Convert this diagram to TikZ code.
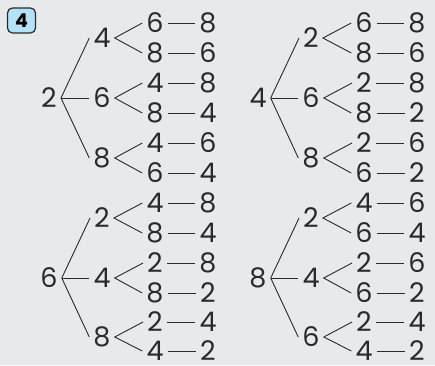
\documentclass[tikz,border=0pt]{standalone}
\usepackage{fontspec}
\setmainfont{Poppins}
\definecolor{paper}{HTML}{E8E9EB}
\definecolor{ink}{HTML}{2A2A2A}
\definecolor{tagblue}{HTML}{B4E2F7}

\begin{document}
\begin{tikzpicture}[x=1pt, y=-1pt,
  num/.style={inner xsep=4pt, inner ysep=0pt, text=ink, font=\fontsize{27}{32}\selectfont},
  tl/.style={ink, line width=0.9pt}]
\fill[paper] (0,0) rectangle (435,365);
\node[draw=ink, line width=1.2pt, fill=tagblue, rounded corners=5pt, minimum width=28pt, minimum height=25pt, inner sep=0pt, font=\fontsize{19}{22}\selectfont\bfseries] (tag) at (21.5,20.5) {4};
% tree 2
\node[num] (A) at (49,98) {2};
\node[num] (A1) at (102,38) {4};
\node[num] (A2) at (102,98) {6};
\node[num] (A3) at (102,158) {8};
\node[num] (A1a) at (155,23) {6};
\node[num] (A1b) at (155,53) {8};
\node[num] (A2a) at (155,83) {4};
\node[num] (A2b) at (155,113) {8};
\node[num] (A3a) at (155,143) {4};
\node[num] (A3b) at (155,173) {6};
\node[num] (A1az) at (208,23) {8};
\node[num] (A1bz) at (208,53) {6};
\node[num] (A2az) at (208,83) {8};
\node[num] (A2bz) at (208,113) {4};
\node[num] (A3az) at (208,143) {6};
\node[num] (A3bz) at (208,173) {4};
% tree 4
\node[num] (B) at (258,98) {4};
\node[num] (B1) at (311,38) {2};
\node[num] (B2) at (311,98) {6};
\node[num] (B3) at (311,158) {8};
\node[num] (B1a) at (364,23) {6};
\node[num] (B1b) at (364,53) {8};
\node[num] (B2a) at (364,83) {2};
\node[num] (B2b) at (364,113) {8};
\node[num] (B3a) at (364,143) {2};
\node[num] (B3b) at (364,173) {6};
\node[num] (B1az) at (417,23) {8};
\node[num] (B1bz) at (417,53) {6};
\node[num] (B2az) at (417,83) {8};
\node[num] (B2bz) at (417,113) {2};
\node[num] (B3az) at (417,143) {6};
\node[num] (B3bz) at (417,173) {2};
% tree 6
\node[num] (C) at (49,278) {6};
\node[num] (C1) at (102,218) {2};
\node[num] (C2) at (102,278) {4};
\node[num] (C3) at (102,337) {8};
\node[num] (C1a) at (155,203) {4};
\node[num] (C1b) at (155,233) {8};
\node[num] (C2a) at (155,263) {2};
\node[num] (C2b) at (155,293) {8};
\node[num] (C3a) at (155,322) {2};
\node[num] (C3b) at (155,351) {4};
\node[num] (C1az) at (208,203) {8};
\node[num] (C1bz) at (208,233) {4};
\node[num] (C2az) at (208,263) {8};
\node[num] (C2bz) at (208,293) {2};
\node[num] (C3az) at (208,322) {4};
\node[num] (C3bz) at (208,351) {2};
% tree 8
\node[num] (D) at (258,278) {8};
\node[num] (D1) at (311,218) {2};
\node[num] (D2) at (311,278) {4};
\node[num] (D3) at (311,337) {6};
\node[num] (D1a) at (364,203) {4};
\node[num] (D1b) at (364,233) {6};
\node[num] (D2a) at (364,263) {2};
\node[num] (D2b) at (364,293) {6};
\node[num] (D3a) at (364,322) {2};
\node[num] (D3b) at (364,351) {4};
\node[num] (D1az) at (417,203) {6};
\node[num] (D1bz) at (417,233) {4};
\node[num] (D2az) at (417,263) {6};
\node[num] (D2bz) at (417,293) {2};
\node[num] (D3az) at (417,322) {4};
\node[num] (D3bz) at (417,351) {2};
% branches
\foreach \t in {A,B,C,D} {
  \foreach \k in {1,2,3} {
    \draw[tl] (\t.east) -- (\t\k.west);
    \draw[tl] (\t\k a.west) -- (\t\k.east) -- (\t\k b.west);
    \draw[tl] (\t\k a.east) -- (\t\k az.west);
    \draw[tl] (\t\k b.east) -- (\t\k bz.west);
  }
}
\end{tikzpicture}
\end{document}
